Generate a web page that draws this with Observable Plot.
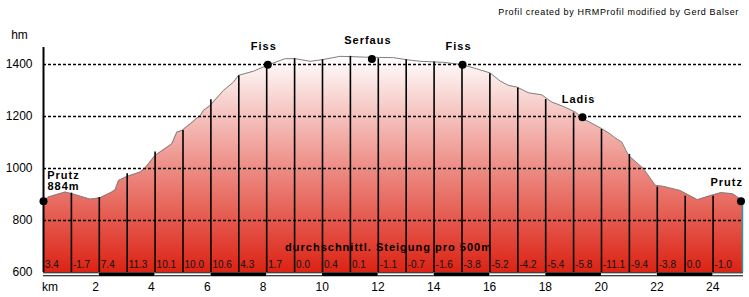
<!DOCTYPE html>
<html><head><meta charset="utf-8">
<script src="https://cdn.jsdelivr.net/npm/d3@7"></script>
<script src="https://cdn.jsdelivr.net/npm/@observablehq/plot@0.6"></script>
<style>
html,body{margin:0;padding:0;background:#fff;}
svg{display:block;}
</style></head><body>
<script>
// ---- data ----
const profileKm = [0, 0.18, 0.48, 0.78, 1.02, 1.67, 2.03, 2.45, 2.57, 2.69, 2.99, 3.47, 3.65, 4.0, 4.6, 4.78, 4.96, 5.26, 5.62, 5.73, 5.97, 6.45, 6.81, 6.99, 7.53, 8.0, 8.48, 8.66, 9.02, 9.56, 9.98, 10.63, 10.99, 11.5, 12.54, 13.02, 13.5, 14.34, 15.02, 15.53, 16.01, 16.37, 16.67, 16.97, 17.38, 17.86, 18.22, 18.64, 19.06, 19.35, 20.01, 20.31, 20.46, 20.73, 20.97, 21.51, 21.93, 22.22, 22.82, 23.44, 23.92, 24.28, 24.7, 25.09];
const profileElev = [874, 890, 900, 909, 903, 882, 887, 909, 918, 954, 969, 986, 1003, 1050, 1095, 1140, 1146, 1172, 1204, 1223, 1242, 1300, 1332, 1358, 1374, 1396, 1415, 1422, 1422, 1412, 1418, 1431, 1430, 1428, 1426, 1418, 1412, 1408, 1399, 1383, 1367, 1336, 1319, 1313, 1291, 1283, 1255, 1238, 1217, 1191, 1153, 1133, 1120, 1101, 1050, 999, 935, 931, 915, 880, 896, 907, 903, 874];
const kmLineTop = [905, 888, 980, 1063, 1146, 1264, 1356, 1396, 1422, 1418, 1431, 1422, 1418, 1409, 1400, 1364, 1309, 1265, 1213, 1150, 1054, 928, 893, 893]; // km 1..24
const gradeLabels = ["3.4", "-1.7", "7.4", "11.3", "10.1", "10.0", "10.6", "4.3", "1.7", "0.0", "0.4", "0.1", "-1.1", "-0.7", "-1.6", "-3.8", "-5.2", "-4.2", "-5.4", "-5.8", "-11.1", "-9.4", "-3.8", "0.0", "-1.0"];
const placeNames = ["Fiss", "Serfaus", "Fiss", "Ladis"];
const placeKm = [8.04, 11.77, 15.02, 19.32];
const placeElev = [1399, 1421, 1399, 1197];
const startName = "Prutz\n884m";
const startKm = 0;
const startElev = 874;
const endName = "Prutz";
const endKm = 25.0;
const endElev = 874;
const routeEnd = 25.09;
const yTicks = [600, 800, 1000, 1200, 1400];
const gridLevels = [800, 1000, 1200, 1400];
const kmTicks = [2, 4, 6, 8, 10, 12, 14, 16, 18, 20, 22, 24];
const yUnit = "hm";
const xUnit = "km";
const subtitle = "durchschnittl. Steigung pro 500m";
const credit = "Profil created by HRMProfil modified by Gerd Balser";

// ---- derived tables ----
const profile = profileKm.map((k, i) => ({km: k, elev: profileElev[i]}));
const kmLines = kmLineTop.map((e, i) => ({km: i + 1, elev: e}));
const grades = gradeLabels.map((t, i) => ({km: i, t}));
const places = placeNames.map((n, i) => ({name: n, km: placeKm[i], elev: placeElev[i]}));
const barStarts = [0, ...kmTicks];
const barSegs = barStarts.map((a, i) => ({a, b: i < barStarts.length - 1 ? barStarts[i + 1] : routeEnd, white: i % 2 === 0}));

const FONT = "Liberation Sans, Arial, sans-serif";

const chart = Plot.plot({
  width: 749,
  height: 297,
  marginLeft: 43,
  marginRight: 6,
  marginTop: 47,
  marginBottom: 25,
  style: {fontFamily: FONT, fontSize: "12px", color: "#000", background: "#fff"},
  x: {domain: [0, routeEnd], axis: null},
  y: {domain: [600, 1465], ticks: yTicks, tickSize: 0, tickPadding: 11, tickFormat: d => String(d), label: null},
  marks: [
    Plot.areaY(profile, {x: "km", y1: 600, y2: "elev", fill: "url(#elevGrad)"}),
    Plot.lineY(profile, {x: "km", y: "elev", stroke: "#808080", strokeWidth: 1}),
    Plot.ruleY(gridLevels, {stroke: "#000", strokeWidth: 1.5, strokeDasharray: "3,2"}),
    Plot.ruleX(kmLines, {x: "km", y1: 600, y2: "elev", stroke: "#000", strokeWidth: 1.6}),
    Plot.ruleX([routeEnd], {y1: 600, y2: endElev, stroke: "#2a9a9a", strokeWidth: 1.5, dx: -1}),
    Plot.ruleX([0], {stroke: "#000", strokeWidth: 2}),
    // km bar below the frame
    Plot.ruleY(barSegs, {y: () => 600, x1: "a", x2: "b", stroke: "#000", strokeWidth: 4, dy: 1.8}),
    Plot.ruleY(barSegs.filter(d => d.white), {y: () => 600, x1: "a", x2: "b", stroke: "#fff", strokeWidth: 2, dy: 1.8}),
    // grade labels
    Plot.text(grades, {x: "km", text: "t", frameAnchor: "bottom", textAnchor: "start", lineAnchor: "middle", dx: 1.5, dy: -7.5, fontSize: 10, fill: "#111"}),
    Plot.text([subtitle], {text: d => d, frameAnchor: "bottom", textAnchor: "middle", lineAnchor: "middle", dx: -5, dy: -25, fontSize: 11, fontWeight: "bold", fill: "#000"}),
    // places
    Plot.dot(places, {x: "km", y: "elev", r: 4, fill: "#000"}),
    Plot.dot([{km: startKm, elev: startElev}, {km: endKm, elev: endElev}], {x: "km", y: "elev", r: 4, fill: "#000"}),
    Plot.text(places, {x: "km", y: "elev", text: "name", textAnchor: "middle", lineAnchor: "middle", dx: -4, dy: -18, fontSize: 11, fontWeight: "bold"}),
    Plot.text([startName], {x: () => startKm, y: () => startElev, text: d => d, textAnchor: "middle", lineAnchor: "middle", lineHeight: 1, dx: 20, dy: -20.5, fontSize: 11, fontWeight: "bold"}),
    Plot.text([endName], {x: () => endKm, y: () => endElev, text: d => d, textAnchor: "end", lineAnchor: "middle", dx: 2, dy: -18.5, fontSize: 11, fontWeight: "bold"}),
    // x tick labels
    Plot.text(kmTicks, {x: d => d, text: d => String(d), frameAnchor: "bottom", textAnchor: "start", lineAnchor: "middle", dx: -7, dy: 14.5, fontSize: 12}),
    Plot.text([xUnit], {x: () => 0, text: d => d, frameAnchor: "bottom", textAnchor: "start", lineAnchor: "middle", dx: -1.5, dy: 14.5, fontSize: 12}),
    Plot.text([yUnit], {text: d => d, frameAnchor: "top-left", textAnchor: "middle", lineAnchor: "middle", dx: -24, dy: -12, fontSize: 12}),
    Plot.text([credit], {text: d => d, frameAnchor: "top-right", textAnchor: "end", lineAnchor: "middle", dx: -4.5, dy: -35.5, fontSize: 9})
  ]
});

const svg = d3.select(chart);
const defs = svg.insert("defs", ":first-child");
const grad = defs.append("linearGradient").attr("id", "elevGrad").attr("x1", 0).attr("y1", 0).attr("x2", 0).attr("y2", 1);
grad.append("stop").attr("offset", "0%").attr("stop-color", "#ffffff");
grad.append("stop").attr("offset", "100%").attr("stop-color", "#dc2314");
svg.selectAll('g[font-weight="bold"]').style("letter-spacing", "1px");
svg.selectAll('g[font-size="9"]').style("letter-spacing", "0.65px");
document.body.appendChild(chart);
</script>
</body></html>
